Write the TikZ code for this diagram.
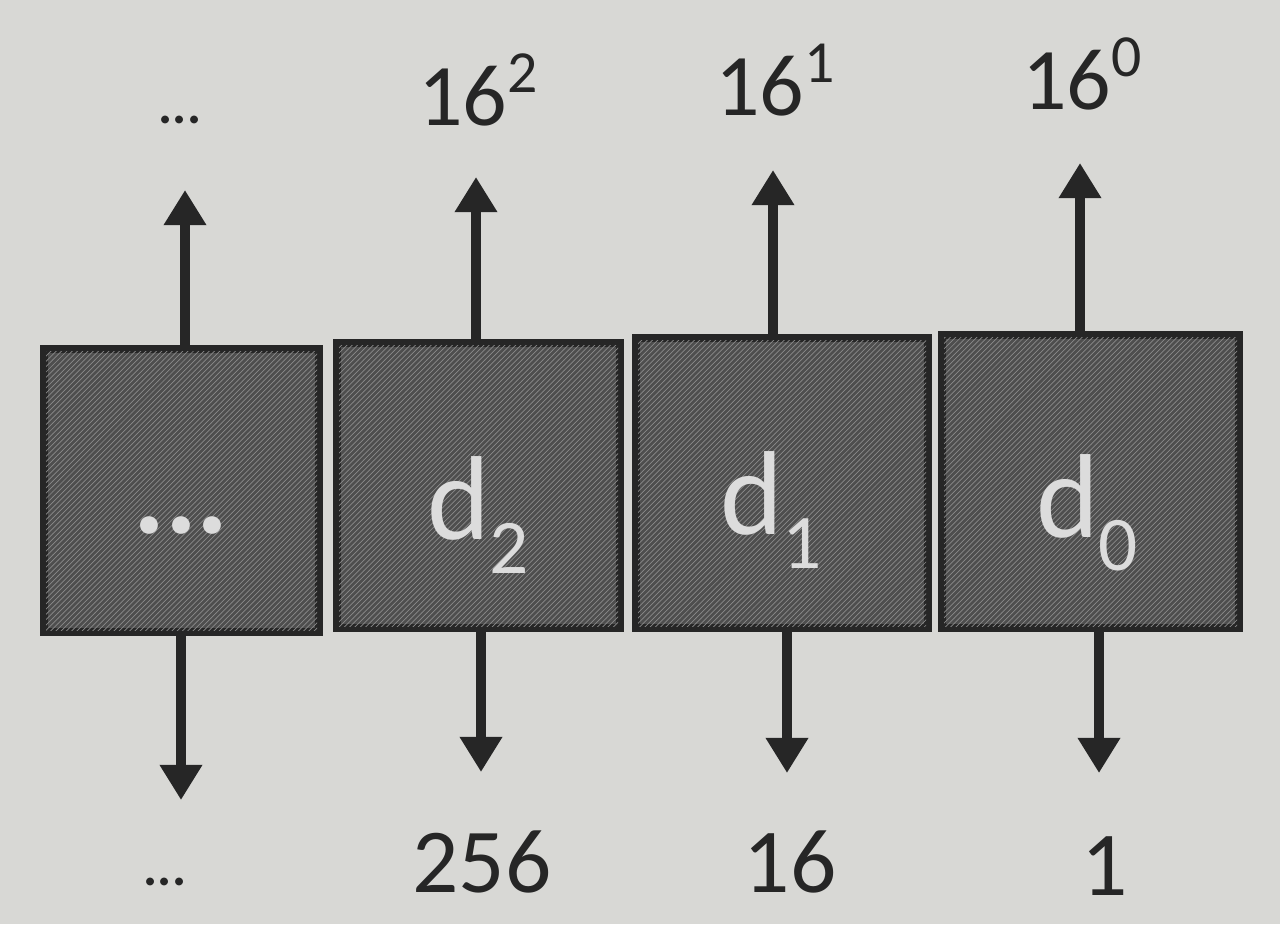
\documentclass[tikz,border=0pt]{standalone}
\usepackage{fontspec}
\setmainfont{Carlito}
\usetikzlibrary{arrows.meta,patterns}
\definecolor{bg}{HTML}{D8D8D5}
\definecolor{boxfill}{HTML}{4E4E4E}
\definecolor{hatch}{HTML}{8A8A8A}
\definecolor{ink}{HTML}{262626}
\definecolor{wtxt}{HTML}{DCDCDC}
\tikzset{
  cell/.style={draw=ink, line width=4.5pt, fill=boxfill},
  cellhatch/.style={pattern=north east lines, pattern color=hatch},
  arr/.style={draw=ink, line width=5.5pt, -{Triangle[width=23pt,length=20pt]}},
  toplab/.style={text=ink, font=\fontsize{50}{54}\selectfont, inner sep=0pt},
  botlab/.style={text=ink, font=\fontsize{52}{56}\selectfont, inner sep=0pt},
  inlab/.style={text=wtxt, font=\fontsize{68}{72}\selectfont, inner sep=0pt},
}
\newcommand{\myexp}[1]{\raisebox{0.38em}{\fontsize{34}{36}\selectfont #1}}
\begin{document}
\begin{tikzpicture}[x=0.02cm,y=-0.02cm]
\useasboundingbox (0,0) rectangle (1280,924);
\fill[bg] (0,0) rectangle (1280,924);
% boxes
\draw[cell] (44,349) rectangle (319,632);
\fill[cellhatch] (46,351) rectangle (317,630);
\draw[cell] (337,343) rectangle (620,628);
\fill[cellhatch] (339,345) rectangle (618,626);
\draw[cell] (636,338) rectangle (928,628);
\fill[cellhatch] (638,340) rectangle (926,626);
\draw[cell] (942,335) rectangle (1239,628);
\fill[cellhatch] (944,337) rectangle (1237,626);
% anchor nodes
\node[inner sep=0pt] (b3t) at (185,347) {};
\node[inner sep=0pt] (b2t) at (476,341) {};
\node[inner sep=0pt] (b1t) at (773,336) {};
\node[inner sep=0pt] (b0t) at (1080,333) {};
\node[inner sep=0pt] (b3b) at (181,634) {};
\node[inner sep=0pt] (b2b) at (481,630) {};
\node[inner sep=0pt] (b1b) at (787,630) {};
\node[inner sep=0pt] (b0b) at (1099,630) {};
\coordinate (u3) at (185,190);
\coordinate (u2) at (476,177);
\coordinate (u1) at (773,170);
\coordinate (u0) at (1080,163);
\coordinate (d3) at (181,800);
\coordinate (d2) at (481,772);
\coordinate (d1) at (787,773);
\coordinate (d0) at (1099,773);
% arrows
\draw[arr] (b3t) -- (u3);
\draw[arr] (b2t) -- (u2);
\draw[arr] (b1t) -- (u1);
\draw[arr] (b0t) -- (u0);
\draw[arr] (b3b) -- (d3);
\draw[arr] (b2b) -- (d2);
\draw[arr] (b1b) -- (d1);
\draw[arr] (b0b) -- (d0);
% top labels
\node[toplab] (t3) at (180,120) {\fontsize{30}{32}\selectfont\textbf{...}};
\node[toplab] (t2) at (478,90) {16\myexp{2}};
\node[toplab] (t1) at (775,80) {16\myexp{1}};
\node[toplab] (t0) at (1082,74) {16\myexp{0}};
% bottom labels
\node[toplab] (l3) at (165,882) {\fontsize{30}{32}\selectfont\textbf{...}};
\node[botlab] (l2) at (482,862) {256};
\node[botlab] (l1) at (790,862) {16};
\node[botlab] (l0) at (1105,866) {1};
% inside labels
\node[inlab] (i3) at (181,525) {\textbf{...}};
\node[inlab] (i2) at (478,515) {d\raisebox{-0.28em}{\fontsize{44}{46}\selectfont 2}};
\node[inlab] (i1) at (771,510) {d\raisebox{-0.28em}{\fontsize{44}{46}\selectfont 1}};
\node[inlab] (i0) at (1087,513) {d\raisebox{-0.28em}{\fontsize{44}{46}\selectfont 0}};
\end{tikzpicture}
\end{document}
